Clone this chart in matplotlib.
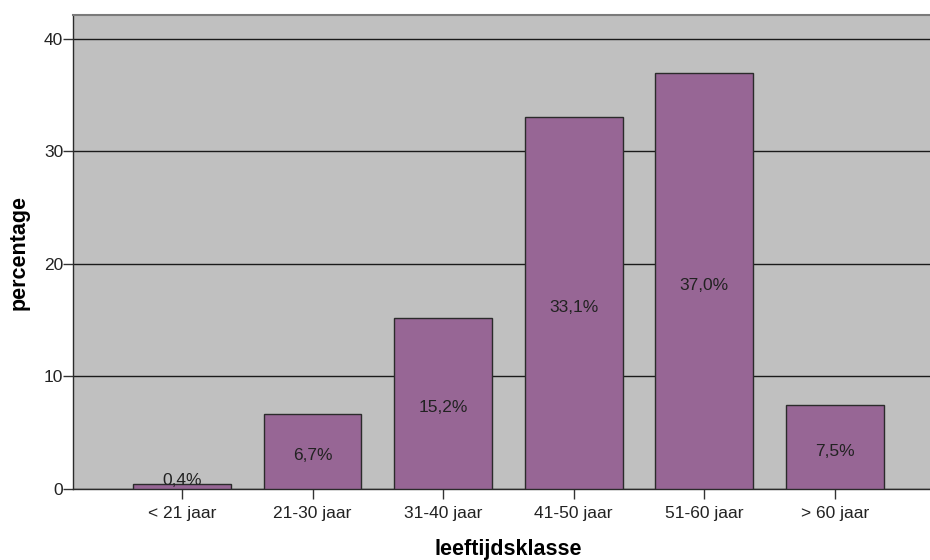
import numpy as np
import matplotlib.pyplot as plt

plt.rcParams['font.family'] = ['Liberation Sans', 'DejaVu Sans']

# data
klassen = ['< 21 jaar', '21-30 jaar', '31-40 jaar', '41-50 jaar', '51-60 jaar', '> 60 jaar']
percentage = [0.4, 6.7, 15.2, 33.1, 37.0, 7.5]
labels = ['0,4%', '6,7%', '15,2%', '33,1%', '37,0%', '7,5%']

fig = plt.figure(figsize=(9.3, 5.6), dpi=100)
ax = fig.add_axes([73 / 930, 1 - 489 / 560, 1 - 73 / 930, (489 - 15) / 560])
ax.set_facecolor('#c0c0c0')

x = np.arange(len(klassen))
ax.bar(x, percentage, width=0.75, color='#976695', edgecolor='#2b2b2b', linewidth=1.0, zorder=3)

ax.set_xlim(-0.835, 5.73)
ax.set_ylim(0, 42.13)
ax.set_yticks([0, 10, 20, 30, 40])
ax.yaxis.grid(True, color='#1a1a1a', linewidth=1.0, zorder=1)
ax.set_axisbelow(True)

# percentages in het midden van de staaf (kleine staaf: net erboven)
for xi, v, lab in zip(x, percentage, labels):
    ax.annotate(lab, (xi, max(v / 2, 1.1)), xytext=(0, -2), textcoords='offset points',
                ha='center', va='center_baseline', fontsize=12.5, color='#222222', zorder=4)

ax.set_xticks(x)
ax.set_xticklabels(klassen)
ax.tick_params(axis='both', direction='out', length=7, width=1, color='#333333',
               labelsize=12.5, labelcolor='#222222')
ax.tick_params(axis='x', pad=5)
ax.tick_params(axis='y', pad=0)

for side in ['left', 'bottom']:
    ax.spines[side].set_color('#2b2b2b')
    ax.spines[side].set_linewidth(1.0)
ax.spines['top'].set_color('#7a7a7a')
ax.spines['top'].set_linewidth(1.5)
ax.spines['right'].set_visible(False)

ax.set_xlabel('leeftijdsklasse', fontsize=15.5, fontweight='bold')
ax.set_ylabel('percentage', fontsize=15.5, fontweight='bold')
ax.xaxis.set_label_coords((508 - 73) / 857, -(549 - 489) / 474)
ax.yaxis.set_label_coords(-(73 - 19) / 857, 0.5)
ax.xaxis.label.set_va('center')
ax.yaxis.label.set_va('center')

fig.savefig('out.png', dpi=100)
